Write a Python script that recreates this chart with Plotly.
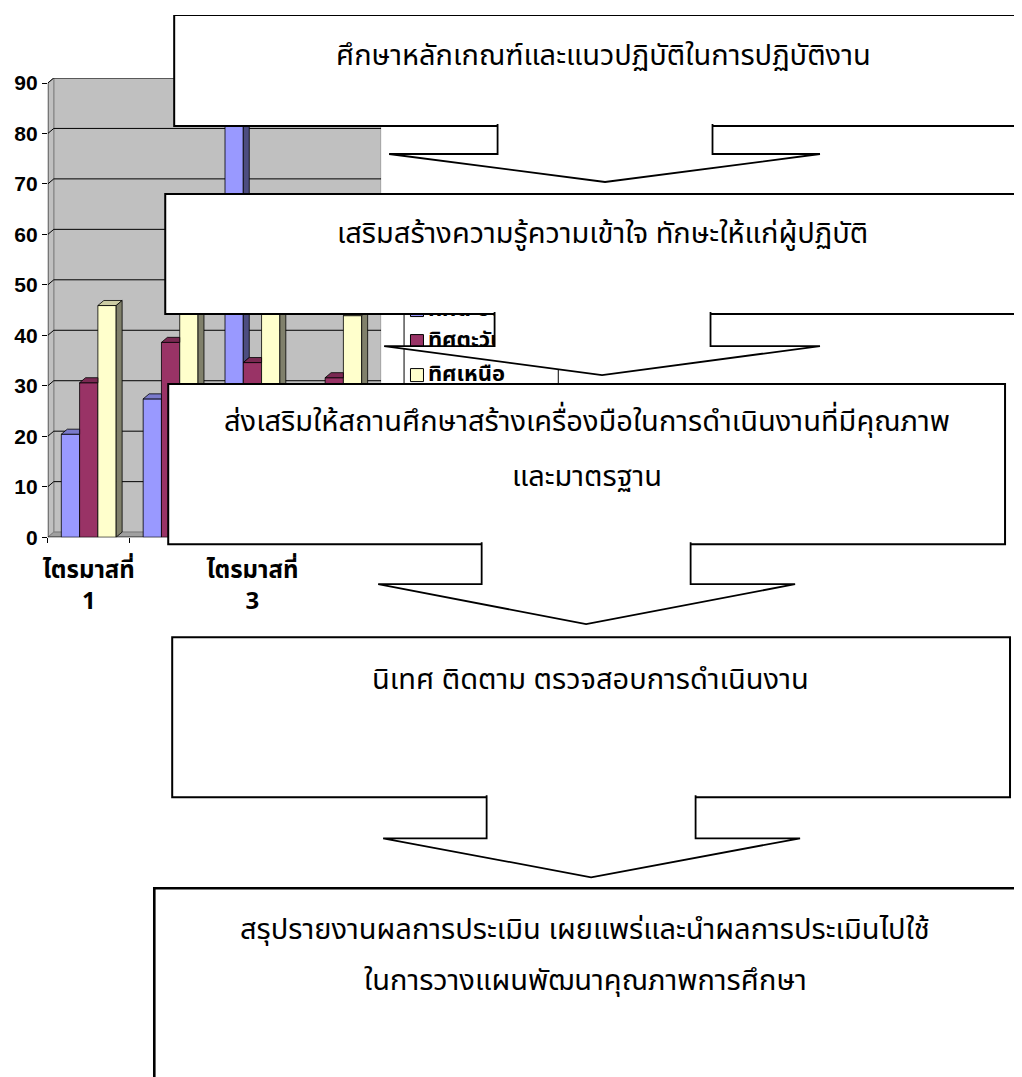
import plotly.graph_objects as go

# ---------------- data ----------------
categories = [0, 1, 2, 3]
category_labels = ["ไตรมาสที่<br>1", "", "ไตรมาสที่<br>3", ""]
series_names = ["ทิศตะวันออก", "ทิศตะวันตก", "ทิศเหนือ"]
east = [20.4, 27.4, 90, 20.4]
west = [30.6, 38.6, 34.6, 31.6]
north = [45.9, 46.9, 45, 43.9]
y_ticks = [0, 10, 20, 30, 40, 50, 60, 70, 80, 90]

flow_steps = [
    ["ศึกษาหลักเกณฑ์และแนวปฏิบัติในการปฏิบัติงาน"],
    ["เสริมสร้างความรู้ความเข้าใจ ทักษะให้แก่ผู้ปฏิบัติ"],
    ["ส่งเสริมให้สถานศึกษาสร้างเครื่องมือในการดำเนินงานที่มีคุณภาพ", "และมาตรฐาน"],
    ["นิเทศ ติดตาม ตรวจสอบการดำเนินงาน"],
    ["สรุปรายงานผลการประเมิน เผยแพร่และนำผลการประเมินไปใช้", "ในการวางแผนพัฒนาคุณภาพการศึกษา"],
]

# ---------------- styles / layout geometry (screen pixels) ----------------
PAGE_W = 1022
OFF_X = 8                                  # body margin
W, H = PAGE_W - 2 * OFF_X, 1085
Y0, YS = 14.06, 0.983                      # observed vertical placement of the figure
front_colors = ["#9999FF", "#993366", "#FFFFCC"]
top_colors = ["#7A7ACC", "#7A2952", "#CCCCA3"]
side_colors = ["#4D4D80", "#4D1A33", "#80806B"]
BARGAP = 0.33
DX, DY = 0.073, 1.0          # 3-D depth offset in data units
XR = [-0.5, 3.5 + DX]
YR = [0, 91]
x_dom_px = (43, 378)
y_dom_px = (536, 77)

# boxes: (x0, y0, x1, y1, line width, text centre x, text line ys)
boxes = [
    (170, 14, 1040, 125, 2, 601, [55]),
    (161, 193, 1040, 313, 2, 600, [233]),
    (164, 383, 1005, 543, 2, 585, [421, 476]),
    (168, 636, 1010, 796, 2, 588, [679]),
    (150, 887, 1018, 1120, 2.6, 583, [929, 980]),
]
# arrows: (shaft x0, shaft x1, top y, shoulder y, head x0, head x1, tip x, tip y)
arrows = [
    (495, 711, 125, 153, 386, 819, 603, 181),
    (492, 709, 313, 345, 381, 819, 600, 374),
    (479, 689, 543, 583, 375, 794, 584, 623),
    (484, 694, 796, 837, 380, 799, 589, 876),
]
legend_box = (401, 290, 556, 396)
legend_rows = [309, 340, 374]

THAI = "Noto Sans Thai, Loma, Garuda, Tahoma, Noto Sans, sans-serif"
THAI_B = "Noto Sans Thai, Loma, Garuda, Tahoma, Liberation Sans, sans-serif"


def px_x(p):
    return (p - OFF_X) / W


def px_y(p):
    return 1 - ((p - Y0) / YS) / H


fig = go.Figure()

values = [east, west, north]
w = (1 - BARGAP) / 3

# front faces
for k, (name, vals) in enumerate(zip(series_names, values)):
    fig.add_trace(go.Bar(
        x=categories, y=vals, name=name, showlegend=False,
        marker=dict(color=front_colors[k], line=dict(color="black", width=0.8)),
        xaxis="x", yaxis="y",
    ))


def clip(poly, fn_inside, fn_inter):
    out = []
    n = len(poly)
    for i in range(n):
        a, b = poly[i], poly[(i + 1) % n]
        ia, ib = fn_inside(a), fn_inside(b)
        if ia:
            out.append(a)
        if ia != ib:
            out.append(fn_inter(a, b))
    return out


def clip_y_ge(poly, c):
    def inter(a, b):
        t = (c - a[1]) / (b[1] - a[1])
        return (a[0] + t * (b[0] - a[0]), c)
    return clip(poly, lambda p: p[1] >= c - 1e-9, inter)


def clip_x(poly, c, ge):
    def inter(a, b):
        t = (c - a[0]) / (b[0] - a[0])
        return (c, a[1] + t * (b[1] - a[1]))
    if ge:
        return clip(poly, lambda p: p[0] >= c - 1e-9, inter)
    return clip(poly, lambda p: p[0] <= c + 1e-9, inter)


# top and side faces of the 3-D bars
for k in range(3):
    tx, ty, sx, sy = [], [], [], []
    for i in categories:
        v = values[k][i]
        x0 = i - 1.5 * w + k * w
        x1 = x0 + w
        vn = values[k + 1][i] if k < 2 else None
        top = [(x0, v), (x1, v), (x1 + DX, v + DY), (x0 + DX, v + DY)]
        polys_top, polys_side = [], []
        if vn is None or vn < v:
            polys_top.append(top)
            h0 = 0 if vn is None else vn
            polys_side.append([(x1, h0), (x1 + DX, h0 + DY), (x1 + DX, v + DY), (x1, v)])
        else:
            polys_top.append(clip_x(top, x1, False))
            tri = clip_y_ge(clip_x(top, x1, True), vn)
            if len(tri) >= 3:
                polys_top.append(tri)
        for p in polys_top:
            p = p + [p[0]]
            tx += [q[0] for q in p] + [None]
            ty += [q[1] for q in p] + [None]
        for p in polys_side:
            p = p + [p[0]]
            sx += [q[0] for q in p] + [None]
            sy += [q[1] for q in p] + [None]
    fig.add_trace(go.Scatter(x=tx, y=ty, mode="lines", fill="toself", fillcolor=top_colors[k],
                             line=dict(color="black", width=0.8), showlegend=False,
                             hoverinfo="skip", xaxis="x", yaxis="y"))
    if sx:
        fig.add_trace(go.Scatter(x=sx, y=sy, mode="lines", fill="toself", fillcolor=side_colors[k],
                                 line=dict(color="black", width=0.8), showlegend=False,
                                 hoverinfo="skip", xaxis="x", yaxis="y"))

# legend (drawn as traces so that the flow-chart boxes cover it)
fig.add_trace(go.Scatter(
    x=[414] * 3, y=legend_rows, mode="markers", showlegend=False, hoverinfo="skip",
    marker=dict(symbol="square", size=13, color=front_colors, line=dict(color="black", width=1)),
    xaxis="x2", yaxis="y2"))
fig.add_trace(go.Scatter(
    x=[425] * 3, y=legend_rows, mode="text", text=series_names, textposition="middle right",
    textfont=dict(family=THAI_B, size=22, color="black", weight="bold"),
    showlegend=False, hoverinfo="skip", xaxis="x2", yaxis="y2"))

shapes = []
# 3-D walls, floor and gridlines
wall_line = dict(color="#808080", width=1)
shapes.append(dict(type="path", xref="x", yref="y", layer="below",
                   path=f"M{XR[0]+DX},{DY} L{3.5+DX},{DY} L{3.5+DX},{90+DY} L{XR[0]+DX},{90+DY} Z",
                   fillcolor="#C0C0C0", line=wall_line))
shapes.append(dict(type="path", xref="x", yref="y", layer="below",
                   path=f"M{XR[0]},0 L{XR[0]+DX},{DY} L{XR[0]+DX},{90+DY} L{XR[0]},90 Z",
                   fillcolor="#C0C0C0", line=wall_line))
shapes.append(dict(type="path", xref="x", yref="y", layer="below",
                   path=f"M{XR[0]},0 L3.5,0 L{3.5+DX},{DY} L{XR[0]+DX},{DY} Z",
                   fillcolor="#A0A0A0", line=wall_line))
for t in y_ticks[1:]:
    shapes.append(dict(type="line", xref="x", yref="y", layer="below",
                       x0=XR[0] + DX, x1=3.5 + DX, y0=t + DY, y1=t + DY,
                       line=dict(color="#000000", width=1)))
    shapes.append(dict(type="line", xref="x", yref="y", layer="below",
                       x0=XR[0], x1=XR[0] + DX, y0=t, y1=t + DY,
                       line=dict(color="#000000", width=1)))
shapes.append(dict(type="line", xref="x", yref="y", layer="below",
                   x0=XR[0], x1=XR[0], y0=0, y1=90, line=dict(color="black", width=1)))
shapes.append(dict(type="line", xref="x", yref="y", layer="below",
                   x0=XR[0], x1=3.5, y0=0, y1=0, line=dict(color="black", width=1)))
# legend frame
lx0, ly0, lx1, ly1 = legend_box
shapes.append(dict(type="rect", xref="x2", yref="y2", layer="below",
                   x0=lx0, y0=ly0, x1=lx1, y1=ly1, fillcolor="white",
                   line=dict(color="black", width=1)))

annotations = []
for idx, (b, lines) in enumerate(zip(boxes, flow_steps)):
    x0, y0, x1, y1, lw, cx, ys = b
    shapes.append(dict(type="rect", xref="x2", yref="y2", layer="above",
                       x0=x0, y0=y0, x1=x1, y1=y1, fillcolor="white",
                       line=dict(color="black", width=lw)))
    for txt, yy in zip(lines, ys):
        annotations.append(dict(x=cx, y=yy, xref="x2", yref="y2", text=txt, showarrow=False,
                                xanchor="center", yanchor="middle",
                                font=dict(family=THAI, size=29, color="black")))
    if idx < len(arrows):
        sx0, sx1, ty, sh, hx0, hx1, tipx, tipy = arrows[idx]
        path = (f"M{sx0},{ty-2} L{sx0},{sh} L{hx0},{sh} L{tipx},{tipy} "
                f"L{hx1},{sh} L{sx1},{sh} L{sx1},{ty-2}")
        shapes.append(dict(type="path", xref="x2", yref="y2", layer="above", path=path,
                           fillcolor="white", line=dict(color="black", width=1.8)))

fig.update_layout(
    width=W, height=H, margin=dict(l=0, r=0, t=0, b=0),
    paper_bgcolor="white", plot_bgcolor="rgba(0,0,0,0)",
    barmode="group", bargap=BARGAP, bargroupgap=0,
    showlegend=False,
    shapes=shapes, annotations=annotations,
    xaxis=dict(domain=[px_x(x_dom_px[0]), px_x(x_dom_px[1])], range=XR, anchor="y",
               tickmode="array", tickvals=categories, ticktext=category_labels,
               ticks="", showgrid=False, zeroline=False, showline=False,
               ticklabelstandoff=16,
               tickfont=dict(family=THAI_B, size=24, color="black", weight="bold"),
               minor=dict(tickvals=[-0.5, 0.5, 1.5, 2.5, 3.5], ticks="outside", ticklen=5,
                          tickcolor="black", showgrid=False)),
    yaxis=dict(domain=[px_y(y_dom_px[0]), px_y(y_dom_px[1])], range=YR, anchor="x",
               tickmode="array", tickvals=y_ticks, ticks="outside", ticklen=5, tickcolor="black",
               showgrid=False, zeroline=False, showline=False,
               tickfont=dict(family="Liberation Sans, Arial, sans-serif", size=21,
                             color="black", weight="bold")),
    xaxis2=dict(domain=[0, 1], range=[OFF_X, OFF_X + W], anchor="y2", visible=False,
                fixedrange=True),
    yaxis2=dict(domain=[0, 1], range=[Y0 + YS * H, Y0], anchor="x2", visible=False,
                fixedrange=True),
)

fig.write_html("out.html")
